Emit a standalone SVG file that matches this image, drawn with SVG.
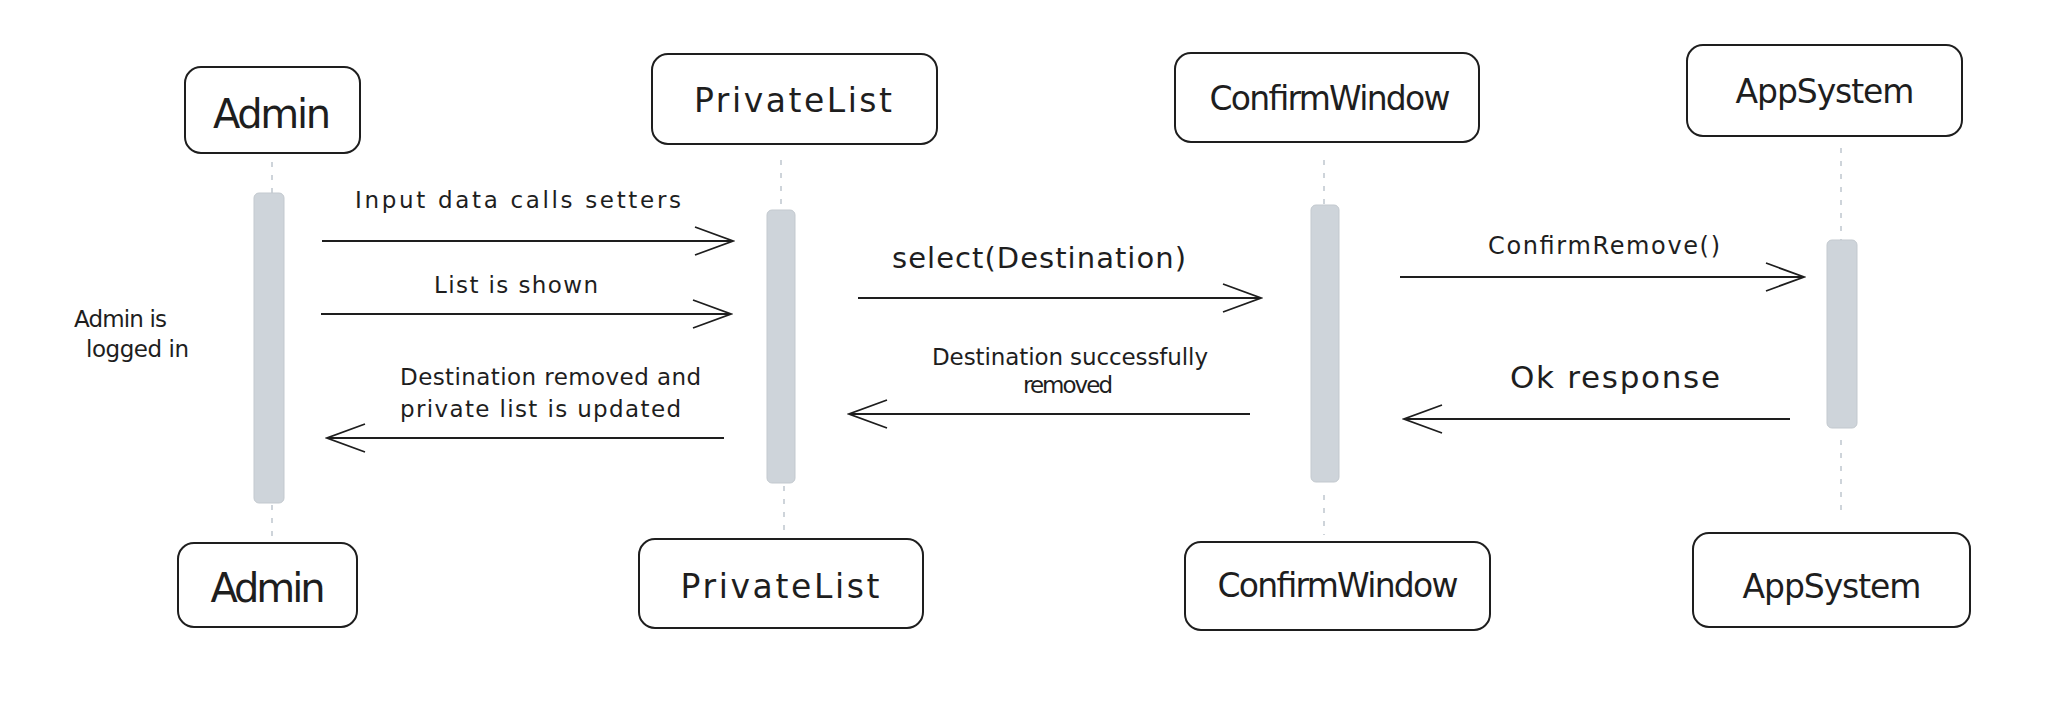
<svg xmlns="http://www.w3.org/2000/svg" width="2046" height="712" viewBox="0 0 2046 712">
<style>
  .box { fill: #ffffff; stroke: #1e1e1e; stroke-width: 2; }
  .life { stroke: #ced4da; stroke-width: 2; stroke-dasharray: 5 8; fill: none; }
  .act { fill: #ced4da; stroke: #c3c9cf; stroke-width: 1; }
  .msg { stroke: #1e1e1e; stroke-width: 1.8; fill: none; }
  text { font-family: "DejaVu Sans", "Liberation Sans", sans-serif; fill: #1e1e1e; }
  .big { font-size: 40px; text-anchor: middle; }
  .name { font-size: 33px; text-anchor: middle; }
  .lbl { font-size: 23px; }
  .mid { text-anchor: middle; }
</style>
<defs>
  <marker id="open" markerUnits="userSpaceOnUse" markerWidth="44" markerHeight="34" viewBox="-42 -17 44 34" refX="0" refY="0" orient="auto">
    <path d="M -38 -14 L 0 0 L -38 14" fill="none" stroke="#1e1e1e" stroke-width="1.8" stroke-linejoin="miter"/>
  </marker>
</defs>
<rect width="2046" height="712" fill="#ffffff"/>

<g id="lifelines">
  <line class="life" x1="272" y1="162" x2="272" y2="193"/>
  <line class="life" x1="272" y1="505" x2="272" y2="540"/>
  <line class="life" x1="781" y1="160" x2="781" y2="210"/>
  <line class="life" x1="784" y1="486" x2="784" y2="536"/>
  <line class="life" x1="1324" y1="160" x2="1324" y2="205"/>
  <line class="life" x1="1324" y1="495" x2="1324" y2="535"/>
  <line class="life" x1="1841" y1="148" x2="1841" y2="240"/>
  <line class="life" x1="1841" y1="440" x2="1841" y2="515"/>
</g>

<g id="activations">
  <rect class="act" x="254" y="193" width="30" height="310" rx="5"/>
  <rect class="act" x="767" y="210" width="28" height="273" rx="5"/>
  <rect class="act" x="1311" y="205" width="28" height="277" rx="5"/>
  <rect class="act" x="1827" y="240" width="30" height="188" rx="5"/>
</g>

<g id="node-admin-top">
  <rect class="box" x="185" y="67" width="175" height="86" rx="16"/>
  <text class="big" x="272" y="128" textLength="118">Admin</text>
</g>
<g id="node-privatelist-top">
  <rect class="box" x="652" y="54" width="285" height="90" rx="16"/>
  <text class="name" x="793" y="112" font-size="36" textLength="198">PrivateList</text>
</g>
<g id="node-confirmwindow-top">
  <rect class="box" x="1175" y="53" width="304" height="89" rx="16"/>
  <text class="name" x="1330" y="110" textLength="241">ConfirmWindow</text>
</g>
<g id="node-appsystem-top">
  <rect class="box" x="1687" y="45" width="275" height="91" rx="16"/>
  <text class="name" x="1825" y="103" textLength="179">AppSystem</text>
</g>

<g id="node-admin-bottom">
  <rect class="box" x="178" y="543" width="179" height="84" rx="16"/>
  <text class="big" x="268" y="602" textLength="115">Admin</text>
</g>
<g id="node-privatelist-bottom">
  <rect class="box" x="639" y="539" width="284" height="89" rx="16"/>
  <text class="name" x="780" y="598" font-size="36" textLength="199">PrivateList</text>
</g>
<g id="node-confirmwindow-bottom">
  <rect class="box" x="1185" y="542" width="305" height="88" rx="16"/>
  <text class="name" x="1338" y="597" textLength="241">ConfirmWindow</text>
</g>
<g id="node-appsystem-bottom">
  <rect class="box" x="1693" y="533" width="277" height="94" rx="16"/>
  <text class="name" x="1832" y="598" textLength="179">AppSystem</text>
</g>

<g id="note-admin">
  <text class="lbl" x="74" y="327" font-size="22" textLength="93">Admin is</text>
  <text class="lbl" x="86" y="357" font-size="22" textLength="103">logged in</text>
</g>

<g id="connectors">
  <line class="msg" x1="322" y1="241" x2="733" y2="241" marker-end="url(#open)"/>
  <line class="msg" x1="321" y1="314" x2="731" y2="314" marker-end="url(#open)"/>
  <line class="msg" x1="724" y1="438" x2="327" y2="438" marker-end="url(#open)"/>
  <line class="msg" x1="858" y1="298" x2="1261" y2="298" marker-end="url(#open)"/>
  <line class="msg" x1="1250" y1="414" x2="849" y2="414" marker-end="url(#open)"/>
  <line class="msg" x1="1400" y1="277" x2="1804" y2="277" marker-end="url(#open)"/>
  <line class="msg" x1="1790" y1="419" x2="1404" y2="419" marker-end="url(#open)"/>
</g>

<g id="labels">
  <text class="lbl mid" x="518" y="208" textLength="326">Input data calls setters</text>
  <text class="lbl mid" x="516" y="293" textLength="164">List is shown</text>
  <text class="lbl" x="400" y="385" textLength="301">Destination removed and</text>
  <text class="lbl" x="400" y="417" textLength="281">private list is updated</text>
  <text class="mid" x="1039" y="268" font-size="29" textLength="294">select(Destination)</text>
  <text class="lbl mid" x="1070" y="365" font-size="22" textLength="276">Destination successfully</text>
  <text class="lbl mid" x="1068" y="393" font-size="22" textLength="90">removed</text>
  <text class="mid" x="1604" y="254" font-size="24" textLength="232">ConfirmRemove()</text>
  <text class="mid" x="1615" y="388" font-size="31" textLength="210">Ok response</text>
</g>
</svg>
